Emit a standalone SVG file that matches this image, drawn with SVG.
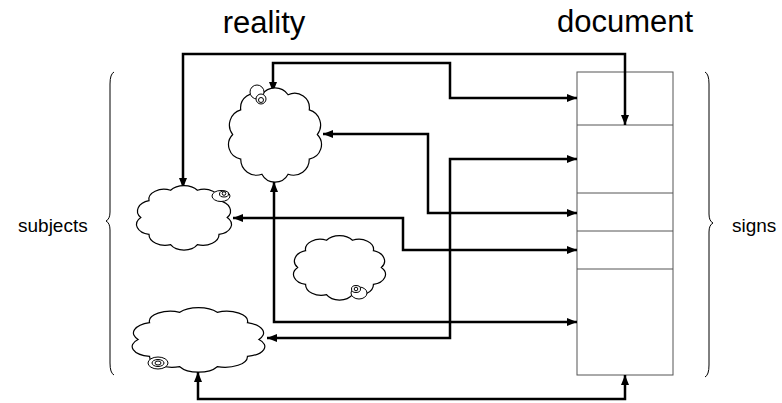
<svg xmlns="http://www.w3.org/2000/svg" xmlns:xlink="http://www.w3.org/1999/xlink" width="782" height="403" viewBox="0 0 782 403">
<style>
.lbl{font-family:"Liberation Sans",Arial,sans-serif;fill:#000}
.big{font-size:31px}
.small{font-size:19px}
.conn{fill:none;stroke:#000;stroke-width:2.5;marker-start:url(#ah);marker-end:url(#ah)}
.cloud{fill:#fff;stroke:#000;stroke-width:1.2;vector-effect:non-scaling-stroke}
.snail{fill:#fff;stroke:#000;stroke-width:1}
.brace{fill:none;stroke:#000;stroke-width:1}
.doc{fill:#fff;stroke:#555;stroke-width:1}
</style>
<defs>
<marker id="ah" markerUnits="userSpaceOnUse" markerWidth="10" markerHeight="8" refX="10" refY="4" orient="auto-start-reverse">
<path d="M0,0 L10,4 L0,8 z" fill="#000"/>
</marker>
<path id="cloudShape" class="cloud" d="M40,0 A14,14 0 0 1 32.4,23.5 A15,15 0 0 1 12.4,38 A14,14 0 0 1 -12.4,38 A15,15 0 0 1 -32.4,23.5 A14,14 0 0 1 -40,0 A15,15 0 0 1 -32.4,-23.5 A14,14 0 0 1 -12.4,-38 A15,15 0 0 1 12.4,-38 A14,14 0 0 1 32.4,-23.5 A15,15 0 0 1 40,0 Z"/>
</defs>
<rect width="782" height="403" fill="#fff"/>
<g id="titles">
<text class="lbl big" x="264" y="33" text-anchor="middle">reality</text>
<text class="lbl big" x="625" y="32" text-anchor="middle">document</text>
</g>
<g id="subjects-label">
<path class="brace" d="M114,72 Q110,74 110,84 L110,212 Q110,219 106,221 Q110,223 110,230 L110,363 Q110,373 114,375"/>
<text class="lbl small" x="18" y="232">subjects</text>
</g>
<g id="signs-label">
<path class="brace" d="M705,72 Q709,74 709,84 L709,214 Q709,221 713,223 Q709,225 709,232 L709,365 Q709,375 705,377"/>
<text class="lbl small" x="732" y="232">signs</text>
</g>
<g id="document">
<rect class="doc" x="577" y="72" width="96" height="303"/>
<line x1="577" y1="125" x2="673" y2="125" stroke="#555" stroke-width="1"/>
<line x1="577" y1="193" x2="673" y2="193" stroke="#555" stroke-width="1"/>
<line x1="577" y1="231" x2="673" y2="231" stroke="#555" stroke-width="1"/>
<line x1="577" y1="269" x2="673" y2="269" stroke="#555" stroke-width="1"/>
</g>
<g id="connectors">
<path class="conn" d="M183,188 V54 H625 V125"/>
<path class="conn" d="M273,92 V63 H450 V98 H577"/>
<path class="conn" d="M323,134 H428 V213 H577"/>
<path class="conn" d="M577,159 H450 V338 H267"/>
<path class="conn" d="M274,182 V322 H577"/>
<path class="conn" d="M233,218 H403 V250 H577"/>
<path class="conn" d="M198,372 V399 H625 V375"/>
</g>
<g id="subject1">
<use xlink:href="#cloudShape" transform="translate(275,134.5) scale(1.057,1.046)"/>
<circle class="snail" cx="257" cy="92" r="7"/>
<circle class="snail" cx="261" cy="99" r="5"/>
<circle class="snail" cx="261" cy="100" r="2.5"/>
</g>
<g id="subject2">
<use xlink:href="#cloudShape" transform="translate(184,217.5) scale(1.08,0.716)"/>
<ellipse class="snail" cx="221" cy="196" rx="9" ry="5.5"/>
<ellipse class="snail" cx="224" cy="194" rx="4.5" ry="3"/>
<circle class="snail" cx="224" cy="193.5" r="1.8"/>
</g>
<g id="subject3">
<use xlink:href="#cloudShape" transform="translate(339.5,267.5) scale(1.046,0.716)"/>
<ellipse class="snail" cx="359" cy="293" rx="8" ry="6"/>
<ellipse class="snail" cx="356" cy="289" rx="4.5" ry="3.5"/>
<circle class="snail" cx="356" cy="289" r="1.8"/>
</g>
<g id="subject4">
<use xlink:href="#cloudShape" transform="translate(198.5,339.5) scale(1.51,0.716)"/>
<ellipse class="snail" cx="158" cy="363" rx="10" ry="6"/>
<ellipse class="snail" cx="158" cy="363" rx="6" ry="3.5"/>
<ellipse class="snail" cx="158" cy="363" rx="3" ry="2"/>
</g>
</svg>
